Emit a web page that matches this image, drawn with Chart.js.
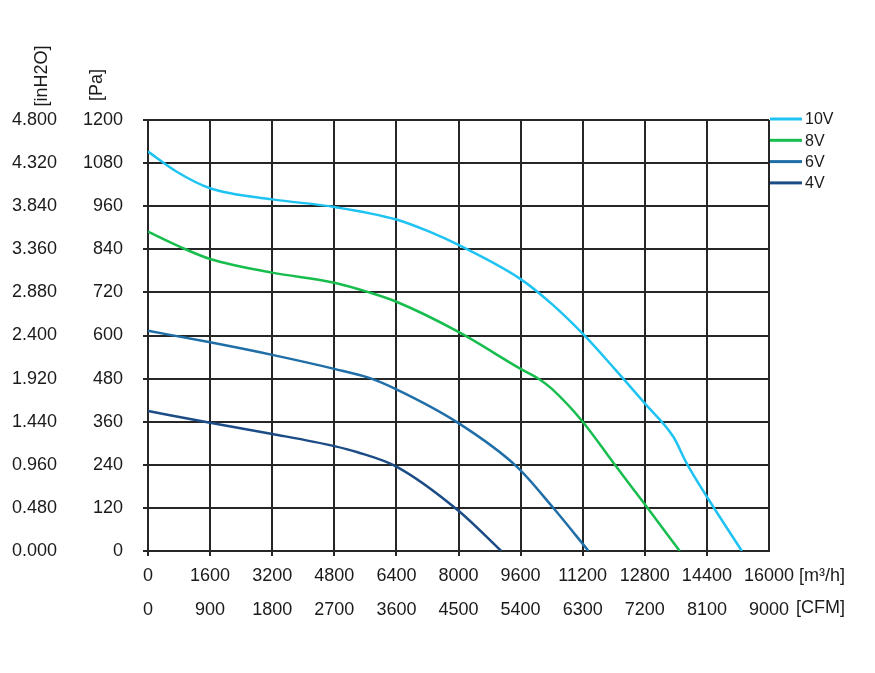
<!DOCTYPE html>
<html>
<head>
<meta charset="utf-8">
<script src="https://cdn.jsdelivr.net/npm/chart.js@4.4.0/dist/chart.umd.min.js"></script>
<style>
html,body{margin:0;padding:0;background:#fff;}
#wrap{width:875px;height:673px;position:relative;}
</style>
</head>
<body>
<div id="wrap"><canvas id="c" width="875" height="673"></canvas></div>
<script>
// ---- data ----
const seriesLabels = ['10V', '8V', '6V', '4V'];

const flow10V = [0, 740, 1600, 3200, 4800, 6400, 7250, 8000, 9600, 10400, 11200, 12000, 12800, 13535, 13880, 14400, 15300];
const pa10V   = [1112, 1056, 1010, 979, 958, 923, 889, 852, 757, 688, 605, 510, 411, 318, 244, 151, 0];

const flow8V = [0, 800, 1600, 3200, 4800, 5700, 6400, 8000, 9600, 10100, 10400, 11200, 12000, 12800, 13700];
const pa8V   = [889, 848, 813, 775, 747, 720, 694, 610, 507, 477, 452, 360, 244, 130, 0];

const flow6V = [0, 1600, 3200, 4800, 5700, 6400, 8000, 9500, 10450, 11350];
const pa6V   = [613, 581, 546, 507, 482, 450, 356, 235, 119, 0];

const flow4V = [0, 1600, 3200, 4800, 5400, 6400, 8000, 9100];
const pa4V   = [390, 357, 326, 292, 275, 235, 112, 0];

// ---- tick labels ----
const paTicks    = ['0', '120', '240', '360', '480', '600', '720', '840', '960', '1080', '1200'];
const inh2oTicks = ['0.000', '0.480', '0.960', '1.440', '1.920', '2.400', '2.880', '3.360', '3.840', '4.320', '4.800'];
const m3hTicks   = ['0', '1600', '3200', '4800', '6400', '8000', '9600', '11200', '12800', '14400', '16000'];
const cfmTicks   = ['0', '900', '1800', '2700', '3600', '4500', '5400', '6300', '7200', '8100', '9000'];

// ---- styles ----
const seriesColors = ['#1ec3f2', '#17bd4d', '#1f6ea8', '#1b4c86'];
const FONT = "'Liberation Sans', Arial, sans-serif";
const TXT = '#1a1a1a';
const GRID = '#262626';

const flows = [flow10V, flow8V, flow6V, flow4V];
const pas = [pa10V, pa8V, pa6V, pa4V];

const datasets = seriesLabels.map((lab, k) => ({
  label: lab,
  data: flows[k].map((f, i) => ({ x: f, y: pas[k][i] })),
  borderColor: seriesColors[k],
  backgroundColor: seriesColors[k],
  borderWidth: 2.5,
  pointRadius: 0,
  fill: false,
  tension: 0.4,
  cubicInterpolationMode: 'monotone',
  xAxisID: 'x',
  yAxisID: 'y'
}));

const extras = {
  id: 'extras',
  afterDraw(chart) {
    const ctx = chart.ctx;
    const a = chart.chartArea;
    ctx.save();
    ctx.fillStyle = TXT;
    // rotated axis unit titles
    ctx.font = '18px ' + FONT;
    ctx.textAlign = 'center';
    ctx.textBaseline = 'middle';
    const titles = [['[inH2O]', a.left - 106, a.top - 44], ['[Pa]', a.left - 51, a.top - 35]];
    titles.forEach(([t, x, y]) => {
      ctx.save();
      ctx.translate(x, y);
      ctx.rotate(-Math.PI / 2);
      ctx.fillText(t, 0, 0);
      ctx.restore();
    });
    // x units
    ctx.textAlign = 'right';
    ctx.fillText('[m³/h]', a.right + 76, a.bottom + 25);
    ctx.fillText('[CFM]', a.right + 76, a.bottom + 57);
    // legend
    ctx.font = '16px ' + FONT;
    ctx.textAlign = 'left';
    chart.data.datasets.forEach((ds, i) => {
      const y = a.top - 1 + i * 21.3;
      ctx.strokeStyle = ds.borderColor;
      ctx.lineWidth = 3;
      ctx.beginPath();
      ctx.moveTo(a.right + 1, y);
      ctx.lineTo(a.right + 33, y);
      ctx.stroke();
      ctx.fillStyle = TXT;
      ctx.fillText(ds.label, a.right + 36, y + 1);
    });
    ctx.restore();
  }
};

const tickFont = { family: FONT, size: 18 };

new Chart(document.getElementById('c'), {
  type: 'line',
  data: { datasets },
  plugins: [extras],
  options: {
    responsive: false,
    animation: false,
    layout: { padding: { left: 0, top: 120, right: 106, bottom: 42 } },
    plugins: { legend: { display: false }, tooltip: { enabled: false } },
    scales: {
      x: {
        type: 'linear', position: 'bottom', weight: 1,
        min: 0, max: 16000,
        ticks: { stepSize: 1600, autoSkip: false, maxRotation: 0, padding: 14, font: tickFont, color: TXT,
                 callback: (v, i) => m3hTicks[i] },
        grid: { color: GRID, lineWidth: 2, drawTicks: false },
        border: { color: GRID, width: 2 },
        afterFit: s => { s.height = 40; }
      },
      xCfm: {
        type: 'linear', position: 'bottom', weight: 2,
        min: 0, max: 16000,
        ticks: { stepSize: 1600, autoSkip: false, maxRotation: 0, padding: 8, font: tickFont, color: TXT,
                 callback: (v, i) => cfmTicks[i] },
        grid: { display: false, drawTicks: false },
        border: { display: false },
        afterFit: s => { s.height = 40; }
      },
      xTick: {
        type: 'linear', position: 'bottom', weight: 0,
        min: 0, max: 16700,
        ticks: { display: false, stepSize: 1600 },
        grid: { drawOnChartArea: false, drawTicks: true, tickLength: 5, color: GRID, lineWidth: 2 },
        border: { display: false },
        afterBuildTicks: s => { s.ticks = s.ticks.filter(t => t.value <= 16000); },
        afterFit: s => { s.height = 0; }
      },
      y: {
        type: 'linear', position: 'left', weight: 0,
        min: 0, max: 1200,
        ticks: { stepSize: 120, padding: 20, font: tickFont, color: TXT,
                 callback: (v, i) => paTicks[i] },
        grid: { color: GRID, lineWidth: 2, tickLength: 5 },
        border: { color: GRID, width: 2 },
        afterFit: s => { s.width = 86; }
      },
      yIn: {
        type: 'linear', position: 'left', weight: 1,
        min: 0, max: 1200,
        ticks: { stepSize: 120, padding: 5, font: tickFont, color: TXT,
                 callback: (v, i) => inh2oTicks[i] },
        grid: { display: false, drawTicks: false },
        border: { display: false },
        afterFit: s => { s.width = 62; }
      }
    }
  }
});
</script>
</body>
</html>
